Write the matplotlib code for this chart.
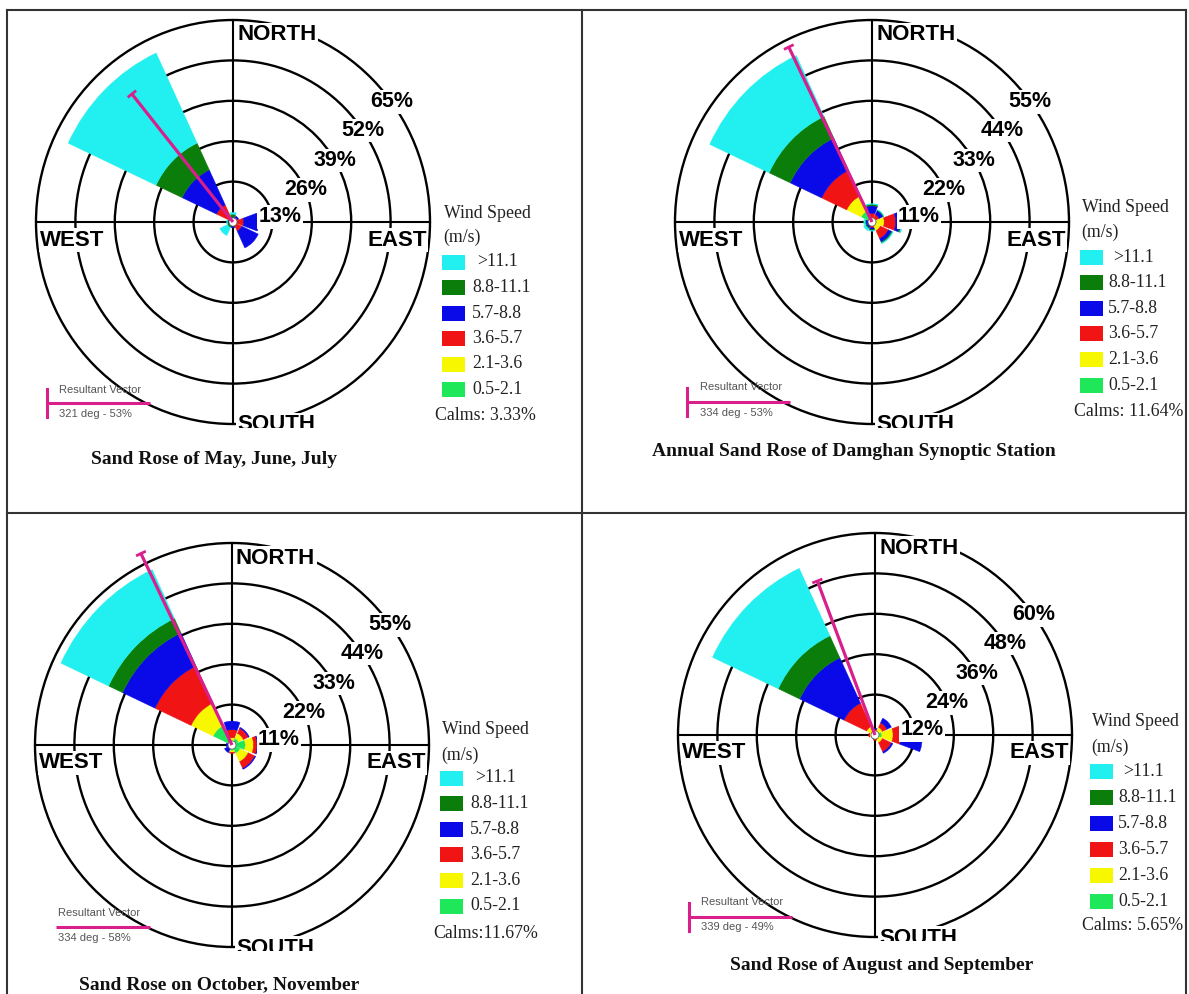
import matplotlib
matplotlib.use('Agg')
import matplotlib.pyplot as plt
from matplotlib.patches import Wedge, Circle, Rectangle
import numpy as np

# ---------------- data ----------------
directions = ['N', 'NE', 'E', 'SE', 'S', 'SW', 'W', 'NW']
bearings = [0, 45, 90, 135, 180, 225, 270, 315]
speed_classes = ['0.5-2.1', '2.1-3.6', '3.6-5.7', '5.7-8.8', '8.8-11.1', '>11.1']
class_colors = ['#1ee85a', '#f7f700', '#f01414', '#0a0ae8', '#0a7d0a', '#22f0f0']

# Panel 1: May, June, July   (% per direction, per speed class)
mjj_s1 = [0.3, 0.3, 0.4, 0.3, 0.3, 0.3, 0.3, 0.5]
mjj_s2 = [0.3, 0.3, 0.5, 0.4, 0.3, 0.2, 0.2, 0.5]
mjj_s3 = [0.5, 1.0, 2.6, 2.5, 0.8, 0.4, 0.5, 5.0]
mjj_s4 = [0.4, 0.5, 5.0, 6.0, 0.5, 0.6, 0.6, 12.5]
mjj_s5 = [1.0, 0.0, 0.0, 0.0, 0.0, 0.5, 0.2, 9.5]
mjj_s6 = [0.6, 0.0, 0.0, 0.0, 0.0, 2.8, 0.3, 32.0]
mjj_rings = [13, 26, 39, 52, 65]
mjj_res_deg, mjj_res_pct = 321, 53
mjj_calms = 'Calms: 3.33%'
mjj_title = 'Sand Rose of May, June, July'

# Panel 2: Annual
ann_s1 = [0.6, 0.6, 1.2, 1.0, 0.6, 0.5, 0.5, 3.3]
ann_s2 = [0.6, 0.6, 2.2, 1.6, 0.5, 0.3, 0.3, 4.5]
ann_s3 = [1.2, 1.0, 3.2, 2.4, 0.5, 0.3, 0.3, 7.7]
ann_s4 = [2.0, 1.2, 1.2, 1.0, 0.5, 0.6, 0.6, 9.7]
ann_s5 = [0.4, 0.2, 0.4, 0.3, 0.2, 0.3, 0.2, 6.5]
ann_s6 = [0.2, 0.1, 0.3, 0.2, 0.2, 0.6, 0.4, 18.3]
ann_rings = [11, 22, 33, 44, 55]
ann_res_deg, ann_res_pct = 334, 53
ann_calms = 'Calms: 11.64%'
ann_title = 'Annual Sand Rose of Damghan Synoptic Station'

# Panel 3: October, November
on_s1 = [1.0, 2.0, 3.7, 2.5, 1.5, 0.5, 0.5, 5.8]
on_s2 = [1.0, 1.5, 2.3, 2.5, 0.5, 0.3, 0.3, 6.8]
on_s3 = [2.2, 1.5, 1.0, 2.0, 0.3, 0.3, 0.3, 11.1]
on_s4 = [2.3, 0.3, 0.2, 0.3, 0.0, 1.2, 0.5, 10.0]
on_s5 = [0.0, 0.0, 0.0, 0.0, 0.0, 0.0, 0.0, 4.3]
on_s6 = [0.0, 0.0, 0.0, 0.0, 0.0, 0.0, 0.0, 14.7]
on_rings = [11, 22, 33, 44, 55]
on_res_deg, on_res_pct = 334, 58
on_calms = 'Calms:11.67%'
on_title = 'Sand Rose on October, November'

# Panel 4: August, September
as_s1 = [0.6, 1.0, 2.0, 1.0, 0.6, 0.5, 0.8, 0.5]
as_s2 = [0.6, 1.5, 3.5, 1.5, 0.5, 0.3, 0.8, 2.3]
as_s3 = [0.5, 1.5, 2.5, 3.0, 0.5, 0.2, 0.3, 7.6]
as_s4 = [0.3, 1.5, 6.5, 0.5, 0.0, 0.2, 0.0, 14.9]
as_s5 = [0.0, 0.0, 0.0, 0.0, 0.0, 0.0, 0.0, 7.2]
as_s6 = [0.0, 0.0, 0.0, 0.0, 0.0, 0.0, 0.0, 22.1]
as_rings = [12, 24, 36, 48, 60]
as_res_deg, as_res_pct = 339, 49
as_calms = 'Calms: 5.65%'
as_title = 'Sand Rose of August and September'

# ---------------- figure ----------------
W, H = 1189, 994
fig = plt.figure(figsize=(W / 100, H / 100), dpi=100)
fig.patch.set_facecolor('white')

SANS = 'Liberation Sans'
SERIF = 'Liberation Serif'
MAG = '#d81f8c'

ov = fig.add_axes([0, 0, 1, 1])
ov.set_xlim(0, W)
ov.set_ylim(H, 0)
ov.axis('off')
ov.set_zorder(5)

# table lines
tcol = '#333333'
ov.plot([7, 1186], [10, 10], color=tcol, lw=1.5)
ov.plot([7, 1186], [513, 513], color=tcol, lw=1.5)
ov.plot([7, 7], [10, H], color=tcol, lw=1.5)
ov.plot([582, 582], [10, H], color=tcol, lw=1.5)
ov.plot([1186, 1186], [10, H], color=tcol, lw=1.5)

RX, RY = 197, 202
pct_angles = [6, 23.5, 30.5, 34.5, 36.5]


def draw_rose(cx, cy, rings, classes, res_deg, res_pct):
    rmax = rings[-1]
    kx, ky = RX / rmax, RY / rmax
    el, er, et, eb = 215, 215, 215, 206
    ax = fig.add_axes([(cx - el) / W, 1 - (cy + eb) / H, (el + er) / W, (et + eb) / H])
    ax.set_xlim(-el / kx, er / kx)
    ax.set_ylim(-eb / ky, et / ky)
    ax.axis('off')
    ax.set_zorder(2)
    for r in rings:
        ax.add_patch(Circle((0, 0), r, fill=False, ec='black', lw=1.7, zorder=1))
    ax.plot([-rmax, rmax], [0, 0], color='black', lw=1.5, zorder=1)
    ax.plot([0, 0], [-rmax, rmax], color='black', lw=1.5, zorder=1)
    for i, b in enumerate(bearings):
        r0 = 0.0
        for vals, col in zip(classes, class_colors):
            v = vals[i]
            if v > 0:
                ax.add_patch(Wedge((0, 0), r0 + v, 90 - b - 20, 90 - b + 20, width=v,
                                   fc=col, ec=col, lw=0.3, zorder=3))
            r0 += v
    ax.add_patch(Circle((0, 0), 4 / kx, fc='white', ec='#555555', lw=0.5, zorder=4))
    # resultant vector
    br = np.deg2rad(res_deg)
    ex, ey = res_pct * np.sin(br), res_pct * np.cos(br)
    ax.plot([0, ex], [0, ey], color=MAG, lw=2.3, solid_capstyle='butt', zorder=5)
    px, py = np.cos(br), -np.sin(br)
    ax.plot([ex - 4 / kx * px, ex + 4 / kx * px], [ey - 4 / ky * py, ey + 4 / ky * py],
            color=MAG, lw=2.0, zorder=5)
    # labels
    bb = dict(boxstyle='square,pad=0.06', fc='white', ec='none')
    lab = dict(fontfamily=SANS, fontweight='bold', fontsize=16, zorder=6, bbox=bb)
    ax.text(4 / kx, 187 / ky, 'NORTH', ha='left', va='center', **lab)
    ax.text(-(RX - 4) / kx, -18 / ky, 'WEST', ha='left', va='center', **lab)
    ax.text((RX - 3) / kx, -18 / ky, 'EAST', ha='right', va='center', **lab)
    ax.text(4 / kx, -203 / ky, 'SOUTH', ha='left', va='center', clip_on=True, **lab)
    for k, (r, a) in enumerate(zip(rings, pct_angles)):
        rr = r * 1.2 if k == 0 else r
        ax.text(rr * np.cos(np.deg2rad(a)), rr * np.sin(np.deg2rad(a)), f'{r}%',
                ha='center', va='center', fontfamily=SANS, fontweight='bold',
                fontsize=15.5, zorder=6, bbox=bb)
    return ax


def draw_legend(px, wy, my, first, sp, lx, calx, caly, calms):
    ov.text(px + 2, wy, 'Wind Speed', fontfamily=SERIF, fontsize=12.8, ha='left', va='center', color='#222222')
    ov.text(px + 1, my, '(m/s)', fontfamily=SERIF, fontsize=12.8, ha='left', va='center', color='#222222')
    for j, (lab, col) in enumerate(zip(speed_classes[::-1], class_colors[::-1])):
        y = first + j * sp
        ov.add_patch(Rectangle((px, y - 7.5), 23, 15, fc=col, ec='none'))
        ov.text(lx + (5 if j == 0 else 0), y, lab, fontfamily=SERIF, fontsize=12.8,
                ha='left', va='center', color='#222222')
    ov.text(calx, caly, calms, fontfamily=SERIF, fontsize=12.8, ha='left', va='center', color='#222222')


def draw_res_legend(tx, ly, x1, textx, t1y, t2y, deg, pct, tick=True):
    ov.plot([tx, x1], [ly, ly], color=MAG, lw=2.2, solid_capstyle='butt')
    if tick:
        ov.plot([tx, tx], [ly - 14, ly + 14], color=MAG, lw=2.2)
    ov.text(textx, t1y, 'Resultant Vector', fontfamily=SANS, fontsize=8, color='#555555',
            ha='left', va='center')
    ov.text(textx, t2y, f'{deg} deg - {pct}%', fontfamily=SANS, fontsize=8, color='#555555',
            ha='left', va='center')


def title(x, y, s):
    ov.text(x, y, s, fontfamily=SERIF, fontweight='bold', fontsize=14, ha='center', va='center',
            color='#111111')


# Panel 1
draw_rose(233, 222, mjj_rings, [mjj_s1, mjj_s2, mjj_s3, mjj_s4, mjj_s5, mjj_s6], mjj_res_deg, mjj_res_pct)
draw_legend(442, 213, 237, 262, 25.5, 472, 435, 416, mjj_calms)
draw_res_legend(47, 403, 150, 59, 390, 414, mjj_res_deg, mjj_res_pct)
title(214, 460, mjj_title)

# Panel 2
draw_rose(872, 222, ann_rings, [ann_s1, ann_s2, ann_s3, ann_s4, ann_s5, ann_s6], ann_res_deg, ann_res_pct)
draw_legend(1080, 208, 232, 257, 25.6, 1108, 1074, 411, ann_calms)
draw_res_legend(687, 402, 790, 700, 387, 413, ann_res_deg, ann_res_pct)
title(854, 452, ann_title)

# Panel 3
draw_rose(232, 745, on_rings, [on_s1, on_s2, on_s3, on_s4, on_s5, on_s6], on_res_deg, on_res_pct)
draw_legend(440, 730, 755, 778, 25.6, 470, 433, 933, on_calms)
draw_res_legend(56, 927, 150, 58, 913, 938, on_res_deg, on_res_pct, tick=False)
title(219, 985, on_title)

# Panel 4
draw_rose(875, 735, as_rings, [as_s1, as_s2, as_s3, as_s4, as_s5, as_s6], as_res_deg, as_res_pct)
draw_legend(1090, 722, 747, 771, 26, 1118, 1082, 926, as_calms)
draw_res_legend(689, 917, 792, 701, 902, 927, as_res_deg, as_res_pct)
title(882, 965, as_title)

fig.savefig('out.png', dpi=100, facecolor='white')
